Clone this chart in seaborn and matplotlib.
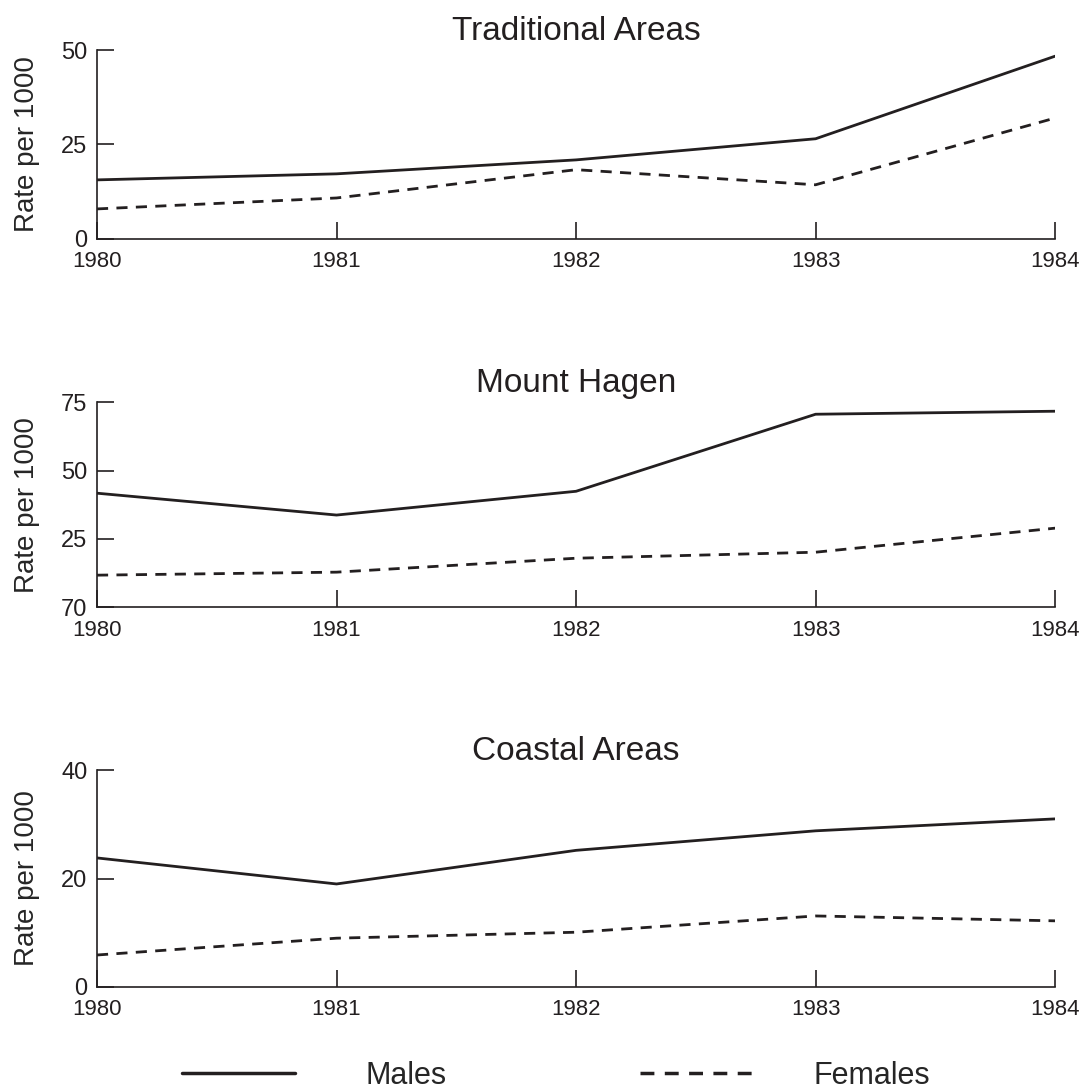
import pandas as pd
import seaborn as sns
import matplotlib.pyplot as plt
from matplotlib.lines import Line2D

sns.set_style("ticks")
plt.rcParams['font.family'] = ['Liberation Sans', 'DejaVu Sans']

years = [1980, 1981, 1982, 1983, 1984]

# Traditional Areas
trad_males = [15.6, 17.2, 20.9, 26.5, 48.4]
trad_females = [7.9, 10.8, 18.3, 14.3, 32.0]
# Mount Hagen
hagen_males = [41.7, 33.7, 42.4, 70.6, 71.7]
hagen_females = [11.7, 12.8, 17.9, 20.1, 28.9]
# Coastal Areas
coast_males = [23.8, 19.0, 25.2, 28.8, 31.0]
coast_females = [5.9, 9.0, 10.1, 13.1, 12.2]

titles = ["Traditional Areas", "Mount Hagen", "Coastal Areas"]
yticks = [[0, 25, 50], [0, 25, 50, 75], [0, 20, 40]]
# the original chart prints "70" at the bottom of the middle panel
ytick_labels = [["0", "25", "50"], ["70", "25", "50", "75"], ["0", "20", "40"]]
series = [(trad_males, trad_females), (hagen_males, hagen_females),
          (coast_males, coast_females)]

fig = plt.figure(figsize=(10.9, 10.9), dpi=100)
positions = [[0.089, 0.781, 0.879, 0.173],
             [0.089, 0.443, 0.879, 0.188],
             [0.089, 0.0945, 0.879, 0.199]]

ink = "#231f20"
for i in range(3):
    ax = fig.add_axes(positions[i])
    m, f = series[i]
    df = pd.DataFrame({
        "year": years * 2,
        "rate": m + f,
        "sex": ["Males"] * 5 + ["Females"] * 5,
    })
    sns.lineplot(data=df, x="year", y="rate", style="sex",
                 dashes={"Males": "", "Females": (4, 3)},
                 color=ink, linewidth=2.0, legend=False, ax=ax)
    ax.set_xlim(1980, 1984)
    ax.set_ylim(0, yticks[i][-1])
    ax.set_xticks(years)
    ax.set_xticklabels([str(y) for y in years], fontsize=16)
    ax.set_yticks(yticks[i])
    ax.set_yticklabels(ytick_labels[i], fontsize=17)
    ax.set_xlabel("")
    ax.set_ylabel("Rate per 1000", fontsize=20, labelpad=15)
    ax.set_title(titles[i], fontsize=24, pad=7, color=ink)
    sns.despine(ax=ax)
    for s in ["left", "bottom"]:
        ax.spines[s].set_linewidth(1.2)
        ax.spines[s].set_color(ink)
    ax.tick_params(axis="both", direction="in", length=12, width=1.2,
                   colors=ink, pad=7)
    ax.tick_params(axis="x", pad=9)

h1 = [Line2D([], [], color=ink, linewidth=2.5)]
h2 = [Line2D([], [], color=ink, linewidth=2.5, linestyle=(0, (4, 3)))]
fig.legend(h1, ["Males"], loc="center left", bbox_to_anchor=(0.167, 0.013),
           frameon=False, fontsize=22, handlelength=3.7, handletextpad=2.3,
           borderpad=0, borderaxespad=0)
fig.legend(h2, ["Females"], loc="center left", bbox_to_anchor=(0.587, 0.013),
           frameon=False, fontsize=22, handlelength=3.9, handletextpad=1.8,
           borderpad=0, borderaxespad=0)

fig.savefig("out.png", dpi=100)
